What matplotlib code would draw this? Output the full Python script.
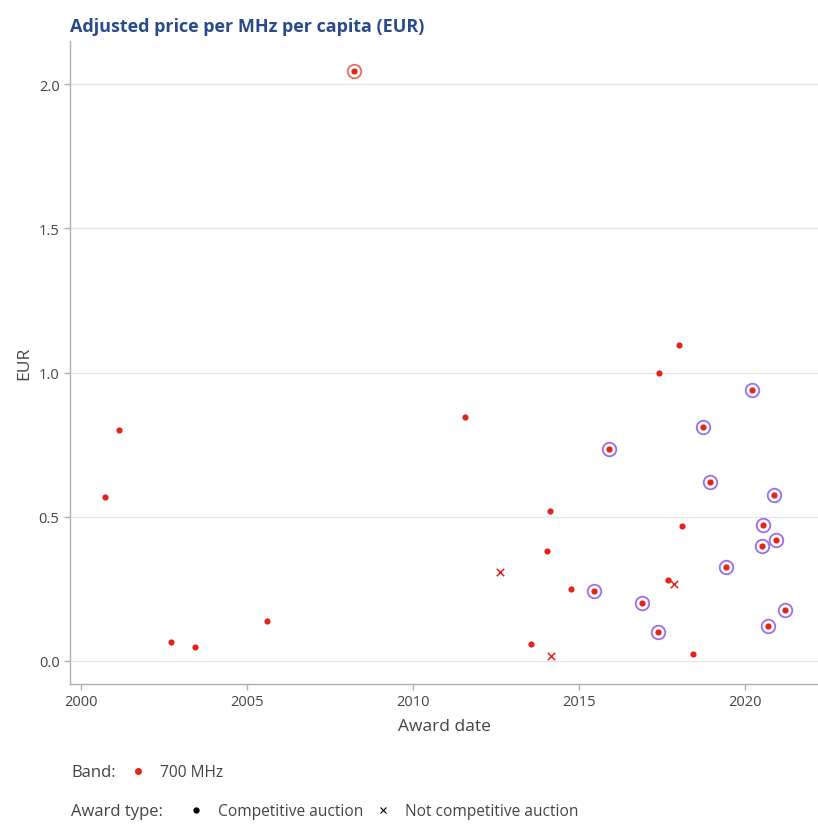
import matplotlib.pyplot as plt
from matplotlib.lines import Line2D

plt.rcParams['font.family'] = ['Open Sans', 'DejaVu Sans']

# award dates (decimal years), adjusted price per MHz per capita (EUR)
dates = [2000.73, 2001.14, 2002.72, 2003.45, 2005.59, 2008.22, 2011.56,
         2012.61, 2013.56, 2014.05, 2014.12, 2014.15, 2014.76, 2015.46,
         2015.89, 2016.89, 2017.38, 2017.42, 2017.67, 2017.86, 2018.01,
         2018.11, 2018.43, 2018.75, 2018.95, 2019.42, 2020.22, 2020.52,
         2020.55, 2020.69, 2020.86, 2020.95, 2021.20]
prices = [0.567, 0.802, 0.066, 0.048, 0.137, 2.046, 0.845,
          0.308, 0.060, 0.381, 0.520, 0.016, 0.251, 0.243,
          0.735, 0.200, 0.102, 0.998, 0.279, 0.266, 1.094,
          0.468, 0.025, 0.811, 0.621, 0.325, 0.940, 0.399,
          0.471, 0.121, 0.577, 0.418, 0.176]
competitive = [1, 1, 1, 1, 1, 1, 1,
               0, 1, 1, 1, 0, 1, 1,
               1, 1, 1, 1, 1, 0, 1,
               1, 1, 1, 1, 1, 1, 1,
               1, 1, 1, 1, 1]
# ring highlight: 'p' purple, 'r' red, '' none
ring = ['', '', '', '', '', 'r', '',
        '', '', '', '', '', '', 'p',
        'p', 'p', 'p', '', '', '', '',
        '', '', 'p', 'p', 'p', 'p', 'p',
        'p', 'p', 'p', 'p', 'p']

red = '#e3241b'
purple = '#9d6ee6'
ring_red = '#ee6a5a'
title_col = '#2b4a8b'
text_col = '#444444'

fig = plt.figure(figsize=(8.18, 8.28), dpi=100)
ax = fig.add_axes([70 / 818, 1 - 685 / 828, 748 / 818, (685 - 42) / 828])

for d, p, c, r in zip(dates, prices, competitive, ring):
    if r:
        ax.scatter(d, p, s=95, facecolor='white',
                   edgecolor=purple if r == 'p' else ring_red,
                   linewidth=1.3, zorder=3)
    if c:
        ax.scatter(d, p, s=20, color=red, linewidth=0, zorder=4)
    else:
        ax.scatter(d, p, s=28, color=red, marker='x', linewidth=1.1, zorder=4)

ax.set_xlim(1999.67, 2022.2)
ax.set_ylim(-0.08, 2.15)
ax.set_xticks([2000, 2005, 2010, 2015, 2020])
ax.set_yticks([0.0, 0.5, 1.0, 1.5, 2.0])
ax.set_yticklabels(['0.0', '0.5', '1.0', '1.5', '2.0'])
ax.grid(axis='y', color='#e6e6e6', linewidth=1)
ax.set_axisbelow(True)
for s in ['top', 'right']:
    ax.spines[s].set_visible(False)
for s in ['left', 'bottom']:
    ax.spines[s].set_color('#b0b0b0')
    ax.spines[s].set_linewidth(1)
ax.tick_params(colors='#b0b0b0', labelcolor=text_col, labelsize=10.5,
               length=4, width=1)
ax.set_xlabel('Award date', fontsize=12.5, color=text_col, labelpad=6)
ax.set_ylabel('EUR', fontsize=12.5, color=text_col, labelpad=5)

fig.text(70 / 818, 1 - 32 / 828, 'Adjusted price per MHz per capita (EUR)',
         fontsize=13, fontweight='bold', color=title_col, va='baseline')

# legends
fig.text(71 / 818, 1 - 773 / 828, 'Band:', fontsize=12, color=text_col,
         va='center')
fig.legend(handles=[Line2D([], [], marker='o', color=red, linestyle='',
                           markersize=4)],
           labels=['700 MHz'], loc='center left',
           bbox_to_anchor=(130 / 818, 1 - 773 / 828), frameon=False,
           fontsize=11.2, handlelength=1.0, handletextpad=0.9, borderpad=0,
           borderaxespad=0, labelcolor=text_col)

fig.text(71 / 818, 1 - 812 / 828, 'Award type:', fontsize=12, color=text_col,
         va='center')
fig.legend(handles=[Line2D([], [], marker='o', color='black', linestyle='',
                           markersize=3.5),
                    Line2D([], [], marker='x', color='black', linestyle='',
                           markersize=5, markeredgewidth=0.8)],
           labels=['Competitive auction', 'Not competitive auction'],
           loc='center left', ncol=2,
           bbox_to_anchor=(188 / 818, 1 - 812 / 828), frameon=False,
           fontsize=11.2, handlelength=1.0, handletextpad=0.9, borderpad=0,
           borderaxespad=0, columnspacing=0.8, labelcolor=text_col)

fig.savefig('out.png', dpi=100)
